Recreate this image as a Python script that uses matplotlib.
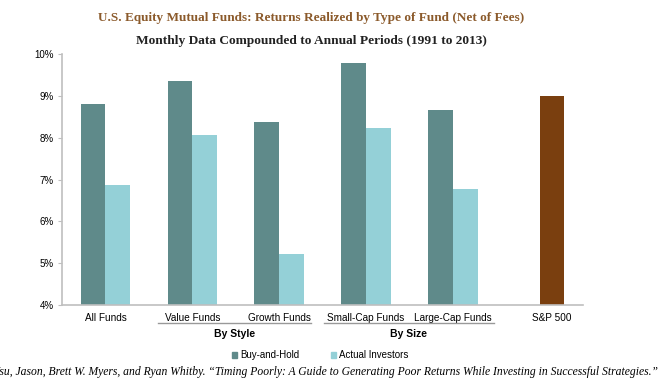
import numpy as np
import matplotlib.pyplot as plt
from matplotlib.patches import Patch

# data
categories = ['All Funds', 'Value Funds', 'Growth Funds', 'Small-Cap Funds', 'Large-Cap Funds']
buy_hold = [8.82, 9.37, 8.39, 9.78, 8.67]
actual = [6.88, 8.06, 5.23, 8.24, 6.77]
sp500_label = 'S&P 500'
sp500 = 9.00
groups = [('By Style', 0.6, 2.37), ('By Size', 2.52, 4.47)]

c_bh = '#5f8a8a'
c_ai = '#94d0d7'
c_sp = '#7a3f0f'
c_axis = '#bfbfbf'

fig = plt.figure(figsize=(6.63, 3.79), dpi=100)
ax = fig.add_axes([0.0935, 0.195, 0.786, 0.662])

w = 0.285
x = np.arange(len(categories))
ax.bar(x - w / 2, buy_hold, w, color=c_bh)
ax.bar(x + w / 2, actual, w, color=c_ai)
ax.bar(len(categories) + w / 2, sp500, w, color=c_sp)

ax.set_ylim(4, 10)
ax.set_xlim(-0.5, 5.5)
ax.set_yticks(range(4, 11))
ax.set_yticklabels([f'{v}%' for v in range(4, 11)], fontsize=7, family='Liberation Sans')
ax.set_xticks(list(x) + [len(categories) + w / 2])
ax.set_xticklabels(categories + [sp500_label], fontsize=7.2, family='Liberation Sans')
ax.tick_params(axis='x', length=0, pad=6)
ax.tick_params(axis='y', length=3, color=c_axis, pad=3)
for s in ['top', 'right']:
    ax.spines[s].set_visible(False)
for s in ['left', 'bottom']:
    ax.spines[s].set_color(c_axis)
    ax.spines[s].set_linewidth(1.2)

# group underlines and labels
tr = ax.get_xaxis_transform()
for name, x0, x1 in groups:
    ax.plot([x0, x1], [-0.073, -0.073], color='#999999', lw=1, transform=tr, clip_on=False)
    ax.text((x0 + x1) / 2, -0.117, name, transform=tr, ha='center', va='center',
            fontsize=7.5, fontweight='bold', family='Liberation Sans')

# titles
fig.text(0.469, 0.952, 'U.S. Equity Mutual Funds: Returns Realized by Type of Fund (Net of Fees)',
         ha='center', va='center', fontsize=9.5, color='#8b5a2b', family='Liberation Serif',
         fontweight='bold')
fig.text(0.469, 0.893, 'Monthly Data Compounded to Annual Periods (1991 to 2013)',
         ha='center', va='center', fontsize=9.6, color='#222222', family='Liberation Serif',
         fontweight='bold')

handles = [Patch(color=c_bh, label='Buy-and-Hold'), Patch(color=c_ai, label='Actual Investors')]
fig.legend(handles=handles, loc='center', bbox_to_anchor=(0.483, 0.063), ncol=2, frameon=False,
           handlelength=0.55, handleheight=0.55, handletextpad=0.3,
           columnspacing=3.3, prop={'family': 'Liberation Sans', 'size': 7})

fig.text(-0.014, 0.019, 'Hsu, Jason, Brett W. Myers, and Ryan Whitby. \u201cTiming Poorly: A Guide to '
         'Generating Poor Returns While Investing in Successful Strategies.\u201d',
         ha='left', va='center', fontsize=8.4, style='italic', family='Liberation Serif')

fig.savefig('out.png', dpi=100)
